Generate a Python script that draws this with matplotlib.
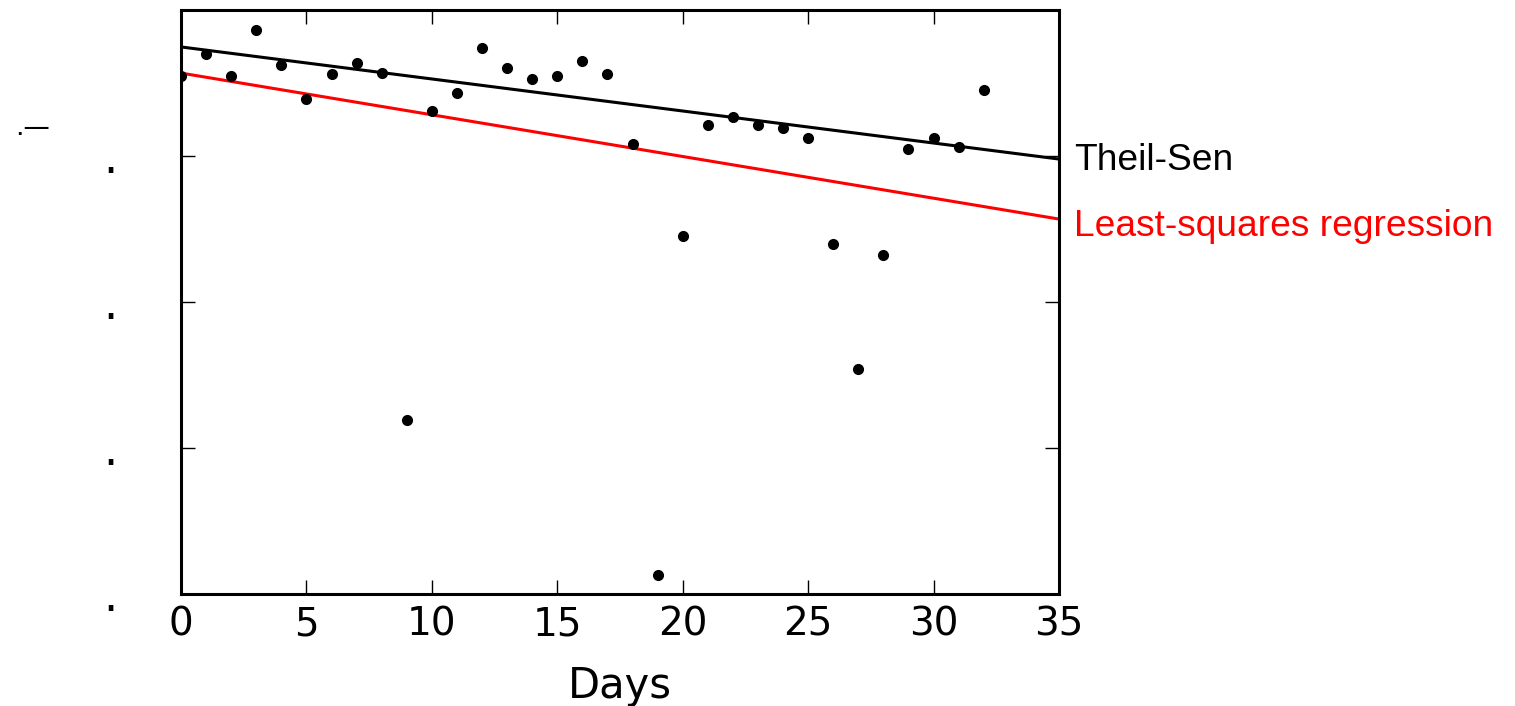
import numpy as np
import matplotlib
matplotlib.use("Agg")
import matplotlib.pyplot as plt

# Data
days = list(range(33))
values = [3.55, 3.70, 3.55, 3.86, 3.62, 3.39, 3.56, 3.64, 3.57, 1.19,
          3.31, 3.43, 3.74, 3.60, 3.53, 3.55, 3.65, 3.56, 3.08, 0.13,
          2.45, 3.21, 3.27, 3.21, 3.19, 3.12, 2.40, 1.54, 2.32, 3.05,
          3.12, 3.06, 3.45]

# fitted lines: (intercept, slope)
theil_sen = (3.747, -0.02194)
least_sq = (3.568, -0.02857)
fit_names = ["Theil-Sen", "Least-squares regression"]
fit_colors = ["black", "red"]
label_offsets = [-0.01, -0.05]

XMAX = 35
x_ticks = [0, 5, 10, 15, 20, 25, 30, 35]
y_ticks = [0, 1, 2, 3]

fig = plt.figure(figsize=(15.15, 7.06), dpi=100)
ax = fig.add_axes([181 / 1515, 112 / 706, 878 / 1515, 584 / 706])

ax.plot(days, values, "o", color="black", markersize=7, zorder=3)

xs = np.array([0, XMAX])
for (b, m), name, col, off in zip([theil_sen, least_sq], fit_names,
                                   fit_colors, label_offsets):
    ys = b + m * xs
    ax.plot(xs, ys, color=col, linewidth=2.2)
    ax.text(XMAX + 0.6, ys[-1] + off, name, color=col, fontsize=26.7,
            family="Liberation Sans", va="center", ha="left", clip_on=False)

ax.set_xlim(0, XMAX)
ax.set_ylim(0, 4)
ax.set_xticks(x_ticks)
ax.set_yticks(y_ticks)
ax.tick_params(direction="in", length=10, width=1, top=True, right=True,
               labelsize=28)
ax.set_yticklabels(["."] * len(y_ticks), fontsize=32)
ax.tick_params(axis="x", pad=8)
ax.tick_params(axis="y", pad=46)
for s in ax.spines.values():
    s.set_linewidth(2.2)

ax.set_xlabel("Days", fontsize=30, labelpad=16)
ax.set_ylabel(".\u2014", fontsize=19, rotation=0)
ax.yaxis.set_label_coords(-0.169, 0.775)

fig.savefig("out.png", dpi=100)
